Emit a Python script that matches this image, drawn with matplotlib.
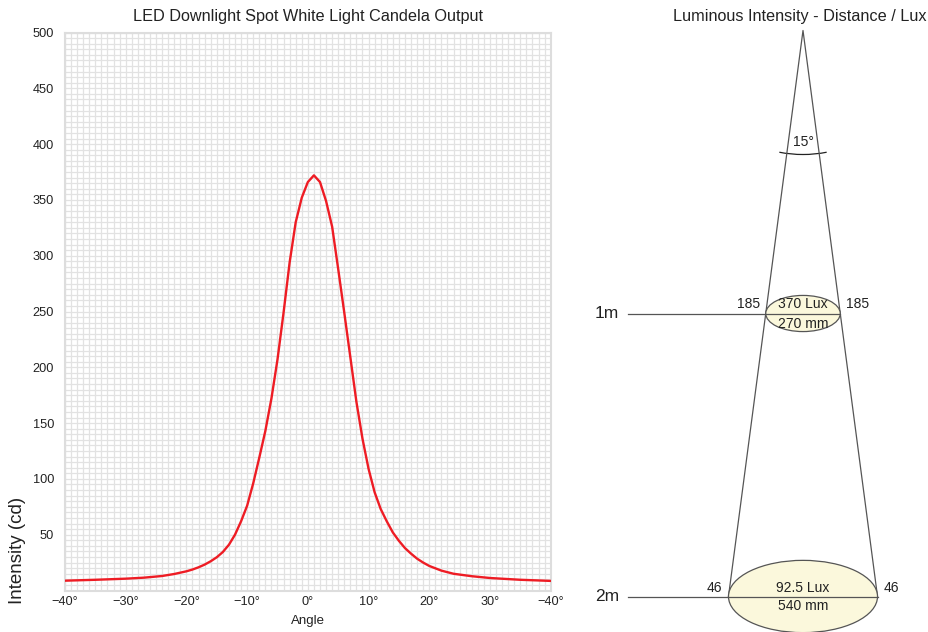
import numpy as np
import matplotlib
matplotlib.use("Agg")
import matplotlib.pyplot as plt
from matplotlib.patches import Ellipse, Arc
from matplotlib.ticker import FixedLocator, MultipleLocator

plt.rcParams['font.family'] = ['Liberation Sans', 'DejaVu Sans']

#------
# data
#------
angles = [-40, -35, -30, -27, -24, -22, -20, -19, -18, -17, -16, -15, -14, -13, -12, -11, -10,
          -9, -8, -7, -6, -5, -4, -3, -2, -1, 0, 1, 2, 3, 4, 5, 6, 7, 8, 9, 10,
          11, 12, 13, 14, 15, 16, 17, 18, 19, 20, 22, 24, 27, 30, 35, 40]
intensity = [8.8, 9.6, 10.6, 11.5, 13, 14.8, 17.2, 18.8, 20.8, 23.2, 26.2, 29.8, 34.5, 41, 50, 62, 76,
             96, 119, 143, 172, 207, 249, 294, 330, 352, 366, 372, 366, 349, 326, 288, 249, 209, 169, 136, 109,
             88, 73, 62, 52, 44.5, 38, 33, 28.5, 25, 22, 17.8, 15, 12.8, 11.2, 9.6, 8.6]

xTicks = [-40, -30, -20, -10, 0, 10, 20, 30, 40]
xTickLabels = ['\u221240\u00b0', '\u221230\u00b0', '\u221220\u00b0', '\u221210\u00b0', '0\u00b0',
               '10\u00b0', '20\u00b0', '30\u00b0', '\u221240\u00b0']
yTicks = [50, 100, 150, 200, 250, 300, 350, 400, 450, 500]

beamAngle = 15
distances = [1, 2]
distLabels = ['1m', '2m']
luxLabels = ['370 Lux', '92.5 Lux']
diameterLabels = ['270 mm', '540 mm']
edgeLabels = ['185', '46']

W, H = 929, 632
fig = plt.figure(figsize=(W / 100, H / 100), dpi=100)

textColor = '#222222'
lineGray = '#555555'

#------
# candela curve
#------
axL, axR, axT, axB = 65, 550.7, 32.5, 590.5
ax = fig.add_axes([axL / W, 1 - axB / H, (axR - axL) / W, (axB - axT) / H])
ax.plot(angles, intensity, color='#ee1c24', lw=1.7, zorder=3)
ax.set_xlim(-40, 40)
ax.set_ylim(0, 500)
ax.xaxis.set_major_locator(FixedLocator(xTicks))
ax.set_xticklabels(xTickLabels)
ax.yaxis.set_major_locator(FixedLocator(yTicks))
ax.xaxis.set_minor_locator(MultipleLocator(1))
ax.yaxis.set_minor_locator(MultipleLocator(5))
ax.grid(which='both', color='#e2e2e2', lw=0.9)
ax.set_axisbelow(True)
ax.tick_params(which='both', length=0, labelsize=9.2, colors=textColor)
ax.tick_params(axis='x', pad=4)
ax.tick_params(axis='y', pad=8)
for s in ax.spines.values():
    s.set_color('#dddddd')
    s.set_linewidth(1.5)
fig.text(308 / W, 1 - 17 / H, 'LED Downlight Spot White Light Candela Output', ha='center', va='center',
         fontsize=11.7, color=textColor)
fig.text(308 / W, 1 - 621 / H, 'Angle', ha='center', va='center', fontsize=9.5, color=textColor)
fig.text(18 / W, 1 - 550 / H, 'Intensity (cd)', ha='center', va='center', rotation=90,
         fontsize=13.5, color=textColor)

#------
# distance / lux diagram (pixel coordinates)
#------
axD = fig.add_axes([580 / W, 0, (W - 580) / W, 1])
axD.set_xlim(580, W)
axD.set_ylim(H, 0)
axD.axis('off')

apexX, apexY = 803, 30.5
pxPerMeter = 283
halfTan = np.tan(np.radians(beamAngle / 2))
maxDist = max(distances)
bottomY = apexY + maxDist * pxPerMeter
bottomHalf = halfTan * maxDist * pxPerMeter
axD.plot([apexX - bottomHalf, apexX, apexX + bottomHalf], [bottomY, apexY, bottomY],
         color=lineGray, lw=0.9, zorder=2)

# angle arc
arcR = 124
arcSpan = 11
axD.add_patch(Arc((apexX, apexY), 2 * arcR, 2 * arcR, theta1=90 - arcSpan, theta2=90 + arcSpan,
                  color='#222222', lw=0.9))
axD.text(apexX, apexY + arcR - 13, str(beamAngle) + '\u00b0', ha='center', va='center',
         fontsize=10, color=textColor)

for d, dl, lx, dm, el in zip(distances, distLabels, luxLabels, diameterLabels, edgeLabels):
    y = apexY + d * pxPerMeter
    half = halfTan * d * pxPerMeter
    axD.add_patch(Ellipse((apexX, y), 2 * half, 0.97 * half, facecolor='#fbf8dc',
                          edgecolor=lineGray, lw=0.9, zorder=3))
    axD.plot([628, apexX + half], [y, y], color=lineGray, lw=0.9, zorder=4)
    axD.text(607, y, dl, ha='center', va='center', fontsize=12.5, color=textColor)
    axD.text(apexX, y - 9, lx, ha='center', va='center', fontsize=10, color=textColor, zorder=5)
    axD.text(apexX, y + 10, dm, ha='center', va='center', fontsize=10, color=textColor, zorder=5)
    axD.text(apexX - half - 6, y - 9, el, ha='right', va='center', fontsize=10, color=textColor)
    axD.text(apexX + half + 6, y - 9, el, ha='left', va='center', fontsize=10, color=textColor)

axD.text(800, 17, 'Luminous Intensity - Distance / Lux', ha='center', va='center',
         fontsize=11.7, color=textColor)

plt.savefig('out.png', dpi=100)
